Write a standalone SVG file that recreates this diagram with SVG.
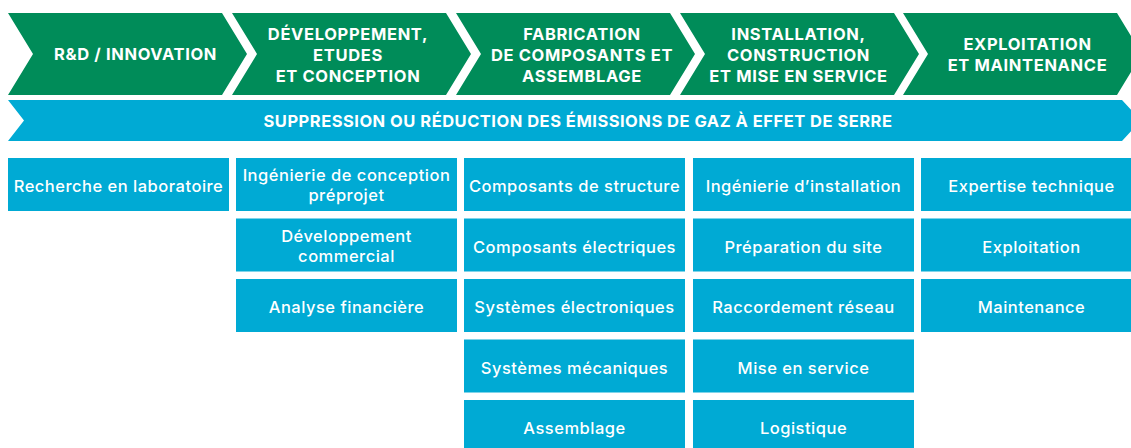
<svg xmlns="http://www.w3.org/2000/svg" width="1131" height="448" viewBox="0 0 1131 448">
<style>
.chev{fill:#008c59}
.band{fill:#00aad4}
.box{fill:#00aad4}
.h{font-family:Inter,"Liberation Sans",sans-serif;font-weight:700;font-size:16.5px;letter-spacing:0.65px;fill:#fff;text-anchor:middle}
.b{letter-spacing:0.5px}
.t{font-family:Inter,"Liberation Sans",sans-serif;font-weight:500;font-size:16.5px;letter-spacing:0.5px;fill:#fff;text-anchor:middle}
</style>
<rect width="1131" height="448" fill="#fff"/>
<g id="phase-rd">
<polygon class="chev" points="8,13 222,13 247,54 222,95 8,95 33,54"/>
<text class="h" x="135.5" y="60">R&amp;D / INNOVATION</text>
</g>
<g id="phase-dev">
<polygon class="chev" points="232,13 446,13 471,54 446,95 232,95 257,54"/>
<text class="h" x="348" y="40">DÉVELOPPEMENT,</text>
<text class="h" x="348" y="61">ETUDES</text>
<text class="h" x="348" y="82">ET CONCEPTION</text>
</g>
<g id="phase-fab">
<polygon class="chev" points="456,13 670,13 695,54 670,95 456,95 481,54"/>
<text class="h" x="582" y="40">FABRICATION</text>
<text class="h" x="582" y="61">DE COMPOSANTS ET</text>
<text class="h" x="582" y="82">ASSEMBLAGE</text>
</g>
<g id="phase-inst">
<polygon class="chev" points="680,13 894,13 919,54 894,95 680,95 705,54"/>
<text class="h" x="798.5" y="40">INSTALLATION,</text>
<text class="h" x="798.5" y="61">CONSTRUCTION</text>
<text class="h" x="798.5" y="82">ET MISE EN SERVICE</text>
</g>
<g id="phase-exp">
<polygon class="chev" points="903,13 1117,13 1142,54 1117,95 903,95 928,54"/>
<text class="h" x="1027.5" y="50">EXPLOITATION</text>
<text class="h" x="1027.5" y="71">ET MAINTENANCE</text>
</g>
<g id="banner">
<polygon class="band" points="8,100 1122,100 1141,120.5 1122,141 8,141 24,120.5"/>
<text class="h b" x="578" y="127">SUPPRESSION OU RÉDUCTION DES ÉMISSIONS DE GAZ À EFFET DE SERRE</text>
</g>
<g id="col1">
<g id="n-recherche"><rect class="box" x="8" y="158" width="221" height="53"/><text class="t" x="118.5" y="192">Recherche en laboratoire</text></g>
</g>
<g id="col2">
<g id="n-ingconc"><rect class="box" x="236" y="158" width="221" height="53"/><text class="t" x="346.5" y="181">Ingénierie de conception</text><text class="t" x="346.5" y="201">préprojet</text></g>
<g id="n-devcom"><rect class="box" x="236" y="218.5" width="221" height="53"/><text class="t" x="346.5" y="241.5">Développement</text><text class="t" x="346.5" y="261.5">commercial</text></g>
<g id="n-analyse"><rect class="box" x="236" y="279" width="221" height="53"/><text class="t" x="346.5" y="313">Analyse financière</text></g>
</g>
<g id="col3">
<g id="n-struct"><rect class="box" x="464" y="158" width="221" height="53"/><text class="t" x="574.5" y="192">Composants de structure</text></g>
<g id="n-elec"><rect class="box" x="464" y="218.5" width="221" height="53"/><text class="t" x="574.5" y="252.5">Composants électriques</text></g>
<g id="n-electro"><rect class="box" x="464" y="279" width="221" height="53"/><text class="t" x="574.5" y="313">Systèmes électroniques</text></g>
<g id="n-meca"><rect class="box" x="464" y="339.5" width="221" height="53"/><text class="t" x="574.5" y="373.5">Systèmes mécaniques</text></g>
<g id="n-assemb"><rect class="box" x="464" y="400" width="221" height="53"/><text class="t" x="574.5" y="434">Assemblage</text></g>
</g>
<g id="col4">
<g id="n-inginst"><rect class="box" x="693" y="158" width="221" height="53"/><text class="t" x="803.5" y="192">Ingénierie d’installation</text></g>
<g id="n-prep"><rect class="box" x="693" y="218.5" width="221" height="53"/><text class="t" x="803.5" y="252.5">Préparation du site</text></g>
<g id="n-racc"><rect class="box" x="693" y="279" width="221" height="53"/><text class="t" x="803.5" y="313">Raccordement réseau</text></g>
<g id="n-mise"><rect class="box" x="693" y="339.5" width="221" height="53"/><text class="t" x="803.5" y="373.5">Mise en service</text></g>
<g id="n-logi"><rect class="box" x="693" y="400" width="221" height="53"/><text class="t" x="803.5" y="434">Logistique</text></g>
</g>
<g id="col5">
<g id="n-expert"><rect class="box" x="921" y="158" width="221" height="53"/><text class="t" x="1031.5" y="192">Expertise technique</text></g>
<g id="n-exploit"><rect class="box" x="921" y="218.5" width="221" height="53"/><text class="t" x="1031.5" y="252.5">Exploitation</text></g>
<g id="n-maint"><rect class="box" x="921" y="279" width="221" height="53"/><text class="t" x="1031.5" y="313">Maintenance</text></g>
</g>
<g id="connectors"/>
</svg>
